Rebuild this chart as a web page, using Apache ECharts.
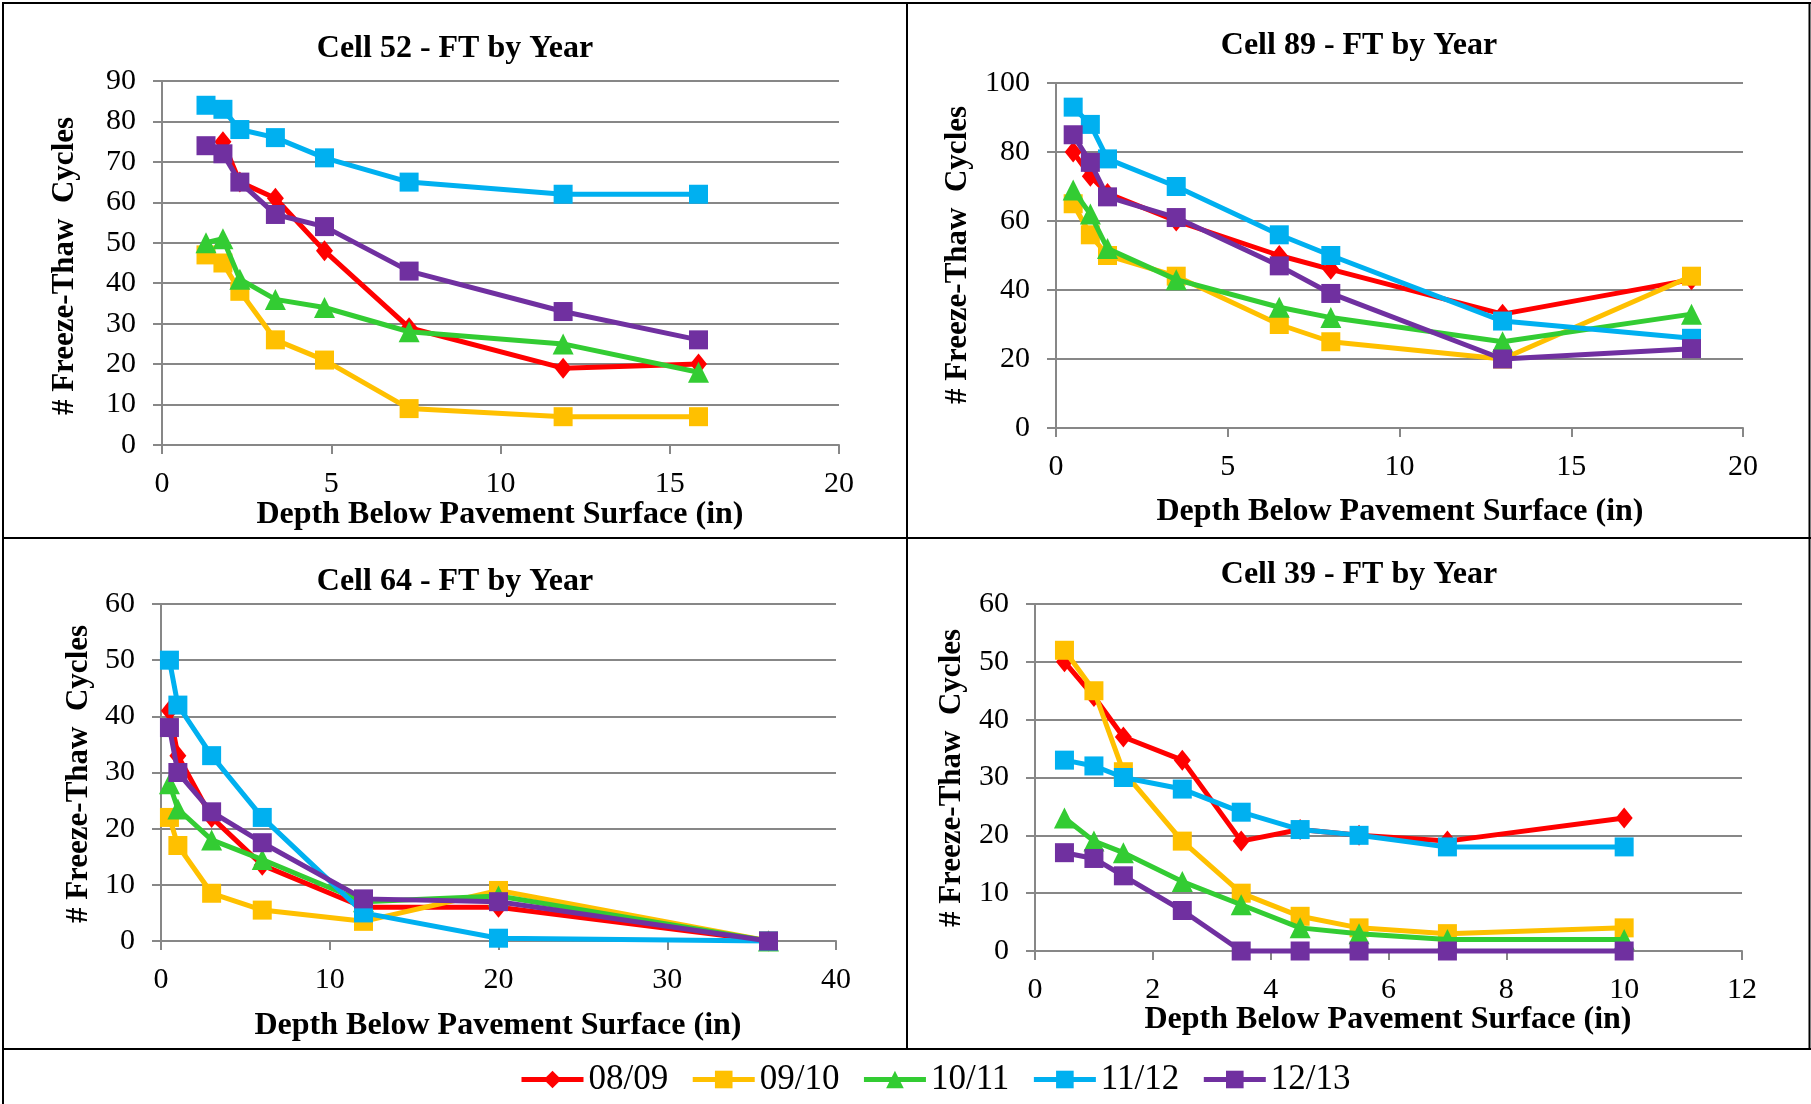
<!DOCTYPE html>
<html>
<head>
<meta charset="utf-8">
<title>Freeze-Thaw Cycles by Year</title>
<script src="https://cdn.jsdelivr.net/npm/echarts@6/dist/echarts.min.js"></script>
<style>
  html, body { margin: 0; padding: 0; background: #ffffff; }
  #chart { width: 1811px; height: 1104px; }
</style>
</head>
<body>
<div id="chart"></div>
<script>
// Winter seasons shown in every panel
const years = ['08/09', '09/10', '10/11', '11/12', '12/13'];
const yearColors = ['#FF0000', '#FFC000', '#33CC33', '#00B0F0', '#7030A0'];
const yearSymbols = ['diamond', 'rect', 'triangle', 'rect', 'rect'];

// Cell 52: sensor depths (in) and freeze-thaw counts per season
const cell52Depth = [1.3, 1.8, 2.3, 3.35, 4.8, 7.3, 11.85, 15.85];
const cell52_0809 = [null, 75, 65, 61, 48, 29, 19, 20];
const cell52_0910 = [47, 45, 38, 26, 21, 9, 7, 7];
const cell52_1011 = [50, 51, 41, 36, 34, 28, 25, 18];
const cell52_1112 = [84, 83, 78, 76, 71, 65, 62, 62];
const cell52_1213 = [74, 72, 65, 57, 54, 43, 33, 26];

// Cell 89
const cell89Depth = [0.5, 1.0, 1.5, 3.5, 6.5, 8.0, 13.0, 18.5];
const cell89_0809 = [80, 73, 68, 60, 50, 46, 33, 43];
const cell89_0910 = [65, 56, 50, 44, 30, 25, 20, 44];
const cell89_1011 = [69, 62, 52, 43, 35, 32, 25, 33];
const cell89_1112 = [93, 88, 78, 70, 56, 50, 31, 26];
const cell89_1213 = [85, 77, 67, 61, 47, 39, 20, 23];

// Cell 64
const cell64Depth = [0.5, 1, 3, 6, 12, 20, 36];
const cell64_0809 = [41, 33, 22, 13.5, 6, 6, 0];
const cell64_0910 = [22, 17, 8.5, 5.5, 3.5, 9, 0];
const cell64_1011 = [28, 23.5, 18, 14.5, 7, 8, 0];
const cell64_1112 = [50, 42, 33, 22, 5, 0.5, 0];
const cell64_1213 = [38, 30, 23, 17.5, 7.5, 7, 0];

// Cell 39
const cell39Depth = [0.5, 1.0, 1.5, 2.5, 3.5, 4.5, 5.5, 7.0, 10.0];
const cell39_0809 = [50, 44, 37, 33, 19, 21, 20, 19, 23];
const cell39_0910 = [52, 45, 31, 19, 10, 6, 4, 3, 4];
const cell39_1011 = [23, 19, 17, 12, 8, 4, 3, 2, 2];
const cell39_1112 = [33, 32, 30, 28, 24, 21, 20, 18, 18];
const cell39_1213 = [17, 16, 13, 7, 0, 0, 0, 0, 0];

// Panel titles and axis scales
const panelTitles = ['Cell 52 - FT by Year', 'Cell 89 - FT by Year', 'Cell 64 - FT by Year', 'Cell 39 - FT by Year'];
const xAxisMax = [20, 20, 40, 12];
const xAxisStep = [5, 5, 10, 2];
const yAxisMax = [90, 100, 60, 60];
const yAxisStep = [10, 20, 10, 10];
const xAxisTitle = 'Depth Below Pavement Surface (in)';
const yAxisTitle = '# Freeze-Thaw  Cycles';

const panelDepths = [cell52Depth, cell89Depth, cell64Depth, cell39Depth];
const panelValues = [
  [cell52_0809, cell52_0910, cell52_1011, cell52_1112, cell52_1213],
  [cell89_0809, cell89_0910, cell89_1011, cell89_1112, cell89_1213],
  [cell64_0809, cell64_0910, cell64_1011, cell64_1112, cell64_1213],
  [cell39_0809, cell39_0910, cell39_1011, cell39_1112, cell39_1213]
];

// Layout of the four plot areas (px)
const gridBoxes = [
  { left: 162, top: 81, width: 677, height: 364 },
  { left: 1056, top: 83, width: 687, height: 345 },
  { left: 161, top: 604, width: 675, height: 337 },
  { left: 1035, top: 604, width: 707, height: 347 }
];
const titleAt = [[455, 49], [1359, 46], [455, 582], [1359, 575]];
const xNameAt = [[500, 515], [1400, 512], [498, 1026], [1388, 1020]];
const yNameAt = [[65, 266], [958, 255], [79, 774], [952, 778]];

const FONT = 'Liberation Serif, Times New Roman, serif';
const GRID_GRAY = '#878787';

const chart = echarts.init(document.getElementById('chart'), null, { renderer: 'canvas' });

const grids = gridBoxes.map(g => Object.assign({ containLabel: false }, g));

const xAxes = gridBoxes.map((g, i) => ({
  type: 'value',
  gridIndex: i,
  min: 0,
  max: xAxisMax[i],
  interval: xAxisStep[i],
  axisLine: { show: true, onZero: false, lineStyle: { color: GRID_GRAY, width: 2 } },
  axisTick: { show: true, inside: false, length: 9, lineStyle: { color: GRID_GRAY, width: 2 } },
  splitLine: { show: false },
  axisLabel: { color: '#000', fontFamily: FONT, fontSize: 30, margin: 24 }
}));

const yAxes = gridBoxes.map((g, i) => ({
  type: 'value',
  gridIndex: i,
  min: 0,
  max: yAxisMax[i],
  interval: yAxisStep[i],
  axisLine: { show: true, lineStyle: { color: GRID_GRAY, width: 2 } },
  axisTick: { show: true, inside: false, length: 9, lineStyle: { color: GRID_GRAY, width: 2 } },
  splitLine: { show: true, lineStyle: { color: GRID_GRAY, width: 2 } },
  axisLabel: { color: '#000', fontFamily: FONT, fontSize: 30, margin: 26 }
}));

function symbolSizeFor(sym) {
  if (sym === 'triangle') return 21;
  if (sym === 'diamond') return [17, 21];
  return 19;
}

const series = [];
panelValues.forEach((group, p) => {
  group.forEach((vals, s) => {
    const pts = [];
    vals.forEach((v, k) => { if (v !== null) pts.push([panelDepths[p][k], v]); });
    series.push({
      name: years[s],
      type: 'line',
      xAxisIndex: p,
      yAxisIndex: p,
      data: pts,
      symbol: yearSymbols[s],
      symbolSize: symbolSizeFor(yearSymbols[s]),
      showAllSymbol: true,
      clip: false,
      z: 2 + s,
      lineStyle: { color: yearColors[s], width: 5 },
      itemStyle: { color: yearColors[s], borderWidth: 0 },
      emphasis: { disabled: true }
    });
  });
});

// Panel frame lines, titles and axis names
const graphics = [];
const frameLines = [
  [2, 3, 1811, 3],
  [3, 2, 3, 1104],
  [1809.5, 2, 1809.5, 1049],
  [907, 2, 907, 1049],
  [2, 538, 1811, 538],
  [2, 1049, 1811, 1049]
];
frameLines.forEach(l => graphics.push({
  type: 'line', silent: true,
  shape: { x1: l[0], y1: l[1], x2: l[2], y2: l[3] },
  style: { stroke: '#000', lineWidth: 2 }
}));
panelTitles.forEach((t, i) => {
  graphics.push({
    type: 'text', silent: true, x: titleAt[i][0], y: titleAt[i][1],
    style: { text: t, font: 'bold 32px ' + FONT, fill: '#000', align: 'center', verticalAlign: 'middle' }
  });
  graphics.push({
    type: 'text', silent: true, x: xNameAt[i][0], y: xNameAt[i][1],
    style: { text: xAxisTitle, font: 'bold 32px ' + FONT, fill: '#000', align: 'center', verticalAlign: 'middle' }
  });
  graphics.push({
    type: 'text', silent: true, x: yNameAt[i][0], y: yNameAt[i][1], rotation: Math.PI / 2,
    style: { text: yAxisTitle, font: 'bold 31px ' + FONT, fill: '#000', align: 'center', verticalAlign: 'middle' }
  });
});

chart.setOption({
  animation: false,
  backgroundColor: '#ffffff',
  grid: grids,
  xAxis: xAxes,
  yAxis: yAxes,
  legend: {
    data: years,
    left: 514,
    top: 1057,
    itemWidth: 62,
    itemHeight: 22,
    itemGap: 22,
    lineStyle: { width: 5 },
    textStyle: { color: '#000', fontFamily: FONT, fontSize: 35, padding: [0, 0, 0, 0] },
    selectedMode: false
  },
  series: series,
  graphic: graphics
});
</script>
</body>
</html>
